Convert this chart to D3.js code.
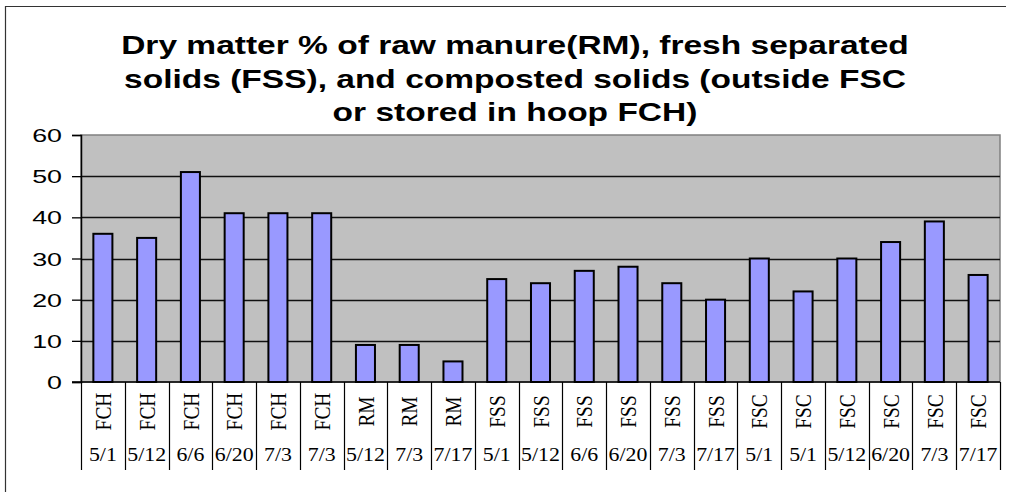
<!DOCTYPE html>
<html>
<head>
<meta charset="utf-8">
<script src="https://cdn.jsdelivr.net/npm/d3@7"></script>
<style>
  html, body { margin: 0; padding: 0; background: #fff; }
  svg { display: block; }
</style>
</head>
<body>
<svg id="chart" width="1010" height="492"></svg>
<script>
// ---- data ----
const titleLines = [
  "Dry matter % of raw manure(RM), fresh separated",
  "solids (FSS), and composted solids (outside FSC",
  "or stored in hoop FCH)"
];
const groups = ["FCH","FCH","FCH","FCH","FCH","FCH","RM","RM","RM","FSS","FSS","FSS","FSS","FSS","FSS","FSC","FSC","FSC","FSC","FSC","FSC"];
const dates  = ["5/1","5/12","6/6","6/20","7/3","7/3","5/12","7/3","7/17","5/1","5/12","6/6","6/20","7/3","7/17","5/1","5/1","5/12","6/20","7/3","7/17"];
const values = [36,35,51,41,41,41,9,9,5,25,24,27,28,24,20,30,22,30,34,39,26];
const yTicks = [0,10,20,30,40,50,60];

// ---- layout ----
const svg = d3.select("#chart");
const plot = { left: 81, right: 1000, top: 135, bottom: 382 };
const ids = d3.range(values.length);

const x = d3.scaleBand().domain(ids).range([plot.left, plot.right]).paddingInner(0.565).paddingOuter(0.2825);
const xCat = d3.scaleBand().domain(ids).range([plot.left, plot.right]);
const y = d3.scaleLinear().domain([0, 60]).range([plot.bottom, plot.top]);

// outer frame (partially cut off)
svg.append("path").attr("d", "M5.5,492 L5.5,6.5 L1006,6.5").attr("fill", "none").attr("stroke", "#333").attr("stroke-width", 1.2);

// title
svg.append("g").selectAll("text").data(titleLines).join("text")
  .attr("transform", (d, i) => `translate(515,${54 + i * 33.5}) scale(1.265,1)`)
  .attr("text-anchor", "middle")
  .attr("font-family", "Liberation Sans, Arial, sans-serif")
  .attr("font-weight", "bold")
  .attr("font-size", 26.5)
  .attr("fill", "#000")
  .text(d => d);

// plot background
svg.append("rect")
  .attr("x", plot.left).attr("y", plot.top)
  .attr("width", plot.right - plot.left).attr("height", plot.bottom - plot.top)
  .attr("fill", "#c0c0c0").attr("stroke", "#808080").attr("stroke-width", 1.5);

// gridlines
svg.append("g").selectAll("line").data(yTicks.filter(t => t > 0 && t < 60)).join("line")
  .attr("x1", plot.left).attr("x2", plot.right)
  .attr("y1", d => Math.round(y(d)) + 0.5).attr("y2", d => Math.round(y(d)) + 0.5)
  .attr("stroke", "#111").attr("stroke-width", 1.4);

// bars
svg.append("g").selectAll("rect").data(ids).join("rect")
  .attr("x", i => x(i)).attr("width", x.bandwidth())
  .attr("y", i => y(values[i])).attr("height", i => y(0) - y(values[i]))
  .attr("fill", "#9999ff").attr("stroke", "#000").attr("stroke-width", 2);

// y axis
const yAxis = d3.axisLeft(y).tickValues(yTicks).tickSize(9).tickPadding(0).tickFormat(d3.format("d"));
const yg = svg.append("g").attr("transform", `translate(${plot.left},0)`).call(yAxis);
yg.select(".domain").attr("stroke", "#000").attr("stroke-width", 1.5);
yg.selectAll(".tick line").attr("stroke", "#000").attr("stroke-width", 1.3);
yg.selectAll(".tick text").text(null);
yg.selectAll(".tick").append("text")
  .attr("transform", "translate(-19,0) scale(1.45,1)")
  .attr("text-anchor", "end")
  .attr("dy", "0.36em")
  .attr("font-family", "Liberation Sans, Arial, sans-serif")
  .attr("font-size", 18.5)
  .attr("fill", "#000")
  .text(d => d);

// x axis baseline
svg.append("line").attr("x1", plot.left - 9).attr("x2", plot.right)
  .attr("y1", plot.bottom).attr("y2", plot.bottom)
  .attr("stroke", "#000").attr("stroke-width", 1.5);

// category separators
const seps = ids.map(i => xCat(i)).concat([plot.right]);
svg.append("g").selectAll("line").data(seps).join("line")
  .attr("x1", d => Math.round(d) + 0.5).attr("x2", d => Math.round(d) + 0.5)
  .attr("y1", plot.bottom).attr("y2", 470)
  .attr("stroke", "#000").attr("stroke-width", 1.2);

// group labels (rotated)
svg.append("g").selectAll("text").data(ids).join("text")
  .attr("transform", i => `translate(${xCat(i) + xCat.bandwidth() / 2},411.5) rotate(-90) scale(1.05,1.3)`)
  .attr("text-anchor", "middle")
  .attr("dy", "0.34em")
  .attr("font-family", "Liberation Serif, Times New Roman, serif")
  .attr("font-size", 18.5)
  .attr("fill", "#000")
  .text(i => groups[i]);

// date labels
svg.append("g").selectAll("text").data(ids).join("text")
  .attr("transform", i => `translate(${xCat(i) + xCat.bandwidth() / 2},461) scale(1.12,1)`)
  .attr("text-anchor", "middle")
  .attr("font-family", "Liberation Serif, Times New Roman, serif")
  .attr("font-size", 19.5)
  .attr("fill", "#000")
  .text(i => dates[i]);
</script>
</body>
</html>
